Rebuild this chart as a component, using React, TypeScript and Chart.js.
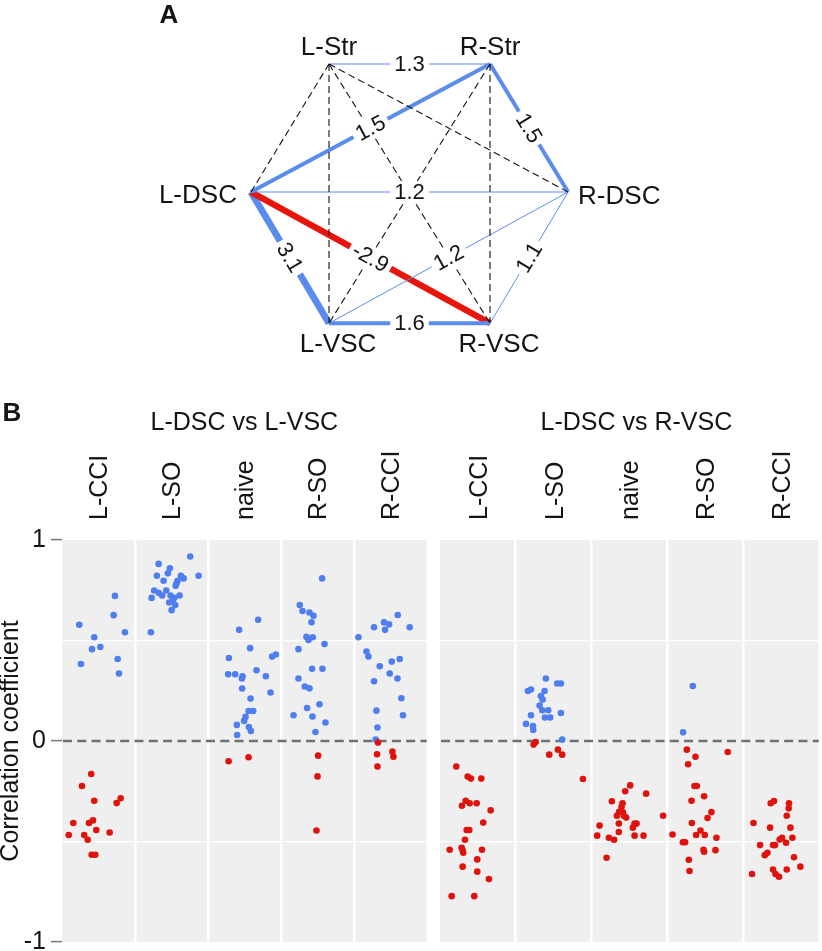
import React, { useEffect, useRef } from 'react';
import { Chart, registerables } from 'chart.js';

Chart.register(...registerables);

// ---------------- data: panel A (network) ----------------
const nodeNames = ['L-Str', 'R-Str', 'L-DSC', 'R-DSC', 'L-VSC', 'R-VSC'];
const nodeX = [-1, 1, -1.97, 1.97, -1, 1];
const nodeY = [1.59, 1.59, 0, 0, -1.63, -1.63];
// edges: from, to, weight (null = not significant)
const edgeFrom = [0, 2, 1, 2, 2, 2, 4, 4, 5, 0, 0, 0, 0, 1, 1];
const edgeTo = [1, 1, 3, 3, 4, 5, 5, 3, 3, 2, 3, 4, 5, 4, 5];
const edgeWeight: (number | null)[] = [1.3, 1.5, 1.5, 1.2, 3.1, -2.9, 1.6, 1.2, 1.1, null, null, null, null, null, null];

// ---------------- data: panel B (correlations) ----------------
const categories = ['L-CCI', 'L-SO', 'naive', 'R-SO', 'R-CCI'];
const facetTitles = ['L-DSC vs L-VSC', 'L-DSC vs R-VSC'];
const yTicks = [-1, 0, 1];

// facet 1: L-DSC vs L-VSC
const llLCCI_r = [0.578, 0.516, 0.457, 0.468, 0.383, 0.722, 0.626, 0.541, 0.408, 0.336, -0.164, -0.224, -0.297, -0.309, -0.285, -0.408, -0.408, -0.395, -0.443, -0.468, -0.468, -0.491, -0.455, -0.566, -0.566];
const llLCCI_j = [-0.263, -0.058, -0.089, 0.025, -0.24, 0.226, 0.208, 0.363, 0.263, 0.281, -0.099, -0.226, -0.058, 0.249, 0.304, -0.345, -0.13, -0.075, -0.03, -0.408, -0.195, -0.148, 0.153, -0.093, -0.044];
const llLSO_r = [0.881, 0.918, 0.822, 0.859, 0.834, 0.822, 0.797, 0.822, 0.809, 0.797, 0.785, 0.772, 0.749, 0.737, 0.724, 0.749, 0.712, 0.724, 0.712, 0.724, 0.689, 0.676, 0.651, 0.541, 0.7];
const llLSO_j = [-0.175, 0.258, 0.373, -0.021, -0.048, -0.199, -0.107, 0.13, 0.167, 0.085, 0.071, 0.058, -0.236, -0.175, -0.126, -0.071, -0.271, -0.011, 0.038, 0.112, -0.03, 0.052, 0.003, -0.281, 0.021];
const llNaive_r = [0.603, 0.553, 0.462, 0.413, 0.42, 0.43, 0.332, 0.332, 0.322, 0.311, 0.352, 0.322, 0.261, 0.241, 0.211, 0.149, 0.149, 0.12, 0.1, 0.08, 0.07, 0.05, 0.03, -0.101, -0.081];
const llNaive_j = [0.189, -0.071, 0.079, -0.212, 0.381, 0.432, -0.222, -0.126, -0.025, -0.034, 0.167, 0.295, -0.03, 0.359, 0.085, 0.058, 0.121, 0.016, -0.003, -0.103, 0.062, 0.089, -0.099, -0.216, 0.058];
const llRSO_r = [0.809, 0.676, 0.647, 0.639, 0.623, 0.591, 0.518, 0.503, 0.516, 0.482, 0.457, 0.359, 0.359, 0.311, 0.271, 0.262, 0.183, 0.128, 0.164, 0.122, 0.092, 0.045, -0.073, -0.176, -0.445];
const llRSO_j = [0.066, -0.24, -0.203, -0.107, -0.052, -0.079, -0.148, -0.121, -0.062, 0.099, -0.258, -0.071, 0.071, -0.258, -0.171, -0.107, 0.03, -0.326, -0.14, -0.066, 0.112, -0.025, 0.011, 0.003, -0.011];
const llRCCI_r = [0.627, 0.59, 0.58, 0.566, 0.553, 0.566, 0.516, 0.445, 0.42, 0.372, 0.395, 0.408, 0.297, 0.336, 0.311, 0.213, 0.151, 0.128, 0.067, 0.007, -0.008, -0.066, -0.053, -0.078, -0.127];
const llRCCI_j = [0.103, -0.085, -0.016, -0.222, -0.071, 0.267, -0.436, -0.326, -0.299, -0.144, 0.021, 0.13, -0.222, -0.007, 0.099, 0.153, -0.189, 0.175, -0.175, -0.199, -0.168, -0.181, 0.03, 0.044, -0.175];

// facet 2: L-DSC vs R-VSC
const lrLCCI_r = [-0.127, -0.177, -0.187, -0.187, -0.322, -0.297, -0.31, -0.31, -0.345, -0.406, -0.443, -0.443, -0.491, -0.541, -0.531, -0.544, -0.556, -0.541, -0.589, -0.625, -0.65, -0.687, -0.772, -0.772];
const lrLCCI_j = [-0.285, -0.135, -0.091, 0.045, -0.21, -0.161, -0.108, -0.016, 0.169, 0.071, -0.148, -0.113, -0.17, -0.372, -0.214, -0.201, -0.193, 0.054, -0.008, -0.201, -0.008, 0.146, -0.346, -0.047];
const lrLSO_r = [0.311, 0.286, 0.286, 0.249, 0.256, 0.249, 0.224, 0.206, 0.176, 0.153, 0.153, 0.117, 0.117, 0.139, 0.128, 0.085, 0.075, 0.055, 0.007, -0.005, -0.018, -0.043, -0.068, -0.068, -0.189];
const lrLSO_j = [-0.102, 0.047, 0.096, -0.339, -0.299, -0.119, -0.168, -0.145, -0.185, -0.15, -0.071, -0.115, -0.045, 0.096, -0.299, -0.365, -0.273, -0.269, 0.113, -0.237, -0.264, 0.057, -0.058, 0.113, 0.387];
const lrNaive_r = [-0.221, -0.25, -0.262, -0.3, -0.31, -0.327, -0.352, -0.372, -0.372, -0.381, -0.372, -0.411, -0.431, -0.411, -0.411, -0.421, -0.453, -0.471, -0.481, -0.491, -0.471, -0.471, -0.581, -0.355];
const lrNaive_j = [0.011, -0.055, 0.222, -0.231, -0.09, -0.103, -0.135, -0.165, -0.073, -0.042, 0.446, -0.139, 0.046, 0.095, 0.069, -0.393, -0.139, -0.425, -0.27, -0.201, 0.069, 0.187, -0.301, -0.086];
const lrRSO_r = [0.274, 0.043, -0.043, -0.078, -0.116, -0.055, -0.224, -0.224, -0.275, -0.297, -0.354, -0.383, -0.408, -0.465, -0.468, -0.445, -0.468, -0.481, -0.504, -0.504, -0.541, -0.551, -0.543, -0.591, -0.647];
const lrRSO_j = [-0.162, -0.29, -0.241, -0.127, -0.224, 0.299, -0.14, -0.109, -0.013, -0.179, 0.084, 0.032, -0.175, -0.43, -0.119, -0.061, -0.004, 0.15, -0.294, -0.264, -0.021, -0.013, 0.137, -0.215, -0.206];
const lrRCCI_r = [-0.31, -0.299, -0.31, -0.335, -0.372, -0.408, -0.431, -0.431, -0.518, -0.518, -0.518, -0.49, -0.481, -0.506, -0.481, -0.556, -0.568, -0.578, -0.662, -0.639, -0.662, -0.675, -0.639, -0.625];
const lrRCCI_j = [-0.133, -0.09, 0.108, 0.104, 0.078, -0.361, -0.142, 0.127, -0.274, -0.077, -0.103, -0.015, 0.016, 0.069, 0.153, -0.177, -0.212, 0.174, -0.38, -0.103, -0.071, -0.024, 0.078, 0.258];

const facetValues = [
  [llLCCI_r, llLSO_r, llNaive_r, llRSO_r, llRCCI_r],
  [lrLCCI_r, lrLSO_r, lrNaive_r, lrRSO_r, lrRCCI_r],
];
const facetJitter = [
  [llLCCI_j, llLSO_j, llNaive_j, llRSO_j, llRCCI_j],
  [lrLCCI_j, lrLSO_j, lrNaive_j, lrRSO_j, lrRCCI_j],
];

// ---------------- styles ----------------
const FONT = "'Liberation Sans', Arial, Helvetica, sans-serif";
const TEXT = '#141414';
const LINE_BLUE = '#5A8CEE';
const LINE_RED = '#E8150C';
const DOT_BLUE = '#4F7FEE';
const DOT_RED = '#E0120C';
const PANEL_BG = '#EFEFEF';
const nodeLabelSide = ['top', 'top', 'left', 'right', 'bottom', 'bottom'];

function edgeWidth(w: number | null): number {
  if (w === null) return 1.1;
  const a = Math.abs(w);
  if (a < 1.4) return 1;
  return Math.min(6.8, 4 + (a - 1.5) * 1.8);
}

const networkPlugin = {
  id: 'networkDecor',
  afterDatasetsDraw(chart: any) {
    const ctx = chart.ctx;
    // edge labels
    chart.data.datasets.forEach((ds: any, i: number) => {
      if (!ds.edgeLabel) return;
      const meta = chart.getDatasetMeta(i);
      const p0 = meta.data[0];
      const p1 = meta.data[1];
      const mx = (p0.x + p1.x) / 2;
      const my = (p0.y + p1.y) / 2;
      let ang = Math.atan2(p1.y - p0.y, p1.x - p0.x);
      if (ang > Math.PI / 2) ang -= Math.PI;
      if (ang < -Math.PI / 2) ang += Math.PI;
      ctx.save();
      ctx.translate(mx, my);
      ctx.rotate(ang);
      ctx.font = `22px ${FONT}`;
      const w = ctx.measureText(ds.edgeLabel).width;
      ctx.fillStyle = '#FFFFFF';
      ctx.fillRect(-w / 2 - 4, -11, w + 8, 22);
      ctx.fillStyle = TEXT;
      ctx.textAlign = 'center';
      ctx.textBaseline = 'middle';
      ctx.fillText(ds.edgeLabel, 0, 1);
      ctx.restore();
    });
    // node labels
    const xs = chart.scales.x;
    const ys = chart.scales.y;
    ctx.save();
    ctx.font = `26px ${FONT}`;
    ctx.fillStyle = TEXT;
    ctx.textBaseline = 'middle';
    nodeNames.forEach((name, i) => {
      const px = xs.getPixelForValue(nodeX[i]);
      const py = ys.getPixelForValue(nodeY[i]);
      const side = nodeLabelSide[i];
      if (side === 'top') {
        ctx.textAlign = 'center';
        ctx.fillText(name, px, py - 16);
      } else if (side === 'bottom') {
        ctx.textAlign = 'center';
        ctx.fillText(name, px + 9, py + 22);
      } else if (side === 'left') {
        ctx.textAlign = 'right';
        ctx.fillText(name, px - 14, py + 4);
      } else {
        ctx.textAlign = 'left';
        ctx.fillText(name, px + 10, py + 5);
      }
    });
    ctx.font = `bold 26px ${FONT}`;
    ctx.textAlign = 'center';
    ctx.fillText('A', 169, 16);
    ctx.restore();
  },
};

function networkConfig(): any {
  const idx = edgeFrom.map((_, i) => i).sort((a, b) => {
    const wa = edgeWeight[a] === null ? 0 : Math.abs(edgeWeight[a] as number);
    const wb = edgeWeight[b] === null ? 0 : Math.abs(edgeWeight[b] as number);
    return wa - wb;
  });
  const datasets = idx.map((i) => {
    const w = edgeWeight[i];
    const sig = w !== null;
    return {
      data: [
        { x: nodeX[edgeFrom[i]], y: nodeY[edgeFrom[i]] },
        { x: nodeX[edgeTo[i]], y: nodeY[edgeTo[i]] },
      ],
      showLine: true,
      borderColor: !sig ? '#111111' : (w as number) > 0 ? LINE_BLUE : LINE_RED,
      borderWidth: edgeWidth(w),
      borderDash: sig ? [] : [7, 4],
      pointRadius: 0,
      pointHoverRadius: 0,
      fill: false,
      edgeLabel: sig ? (w as number).toFixed(1) : null,
    };
  });
  return {
    type: 'scatter',
    data: { datasets },
    options: {
      animation: false,
      responsive: false,
      devicePixelRatio: 1,
      events: [],
      layout: { padding: 0 },
      plugins: { legend: { display: false }, tooltip: { enabled: false } },
      scales: {
        x: { type: 'linear', display: false, min: -5.087, max: 5.124 },
        y: { type: 'linear', display: false, min: -2.335, max: 2.385 },
      },
    },
    plugins: [networkPlugin],
  };
}

const facetPlugin = {
  id: 'facetDecor',
  beforeDraw(chart: any) {
    const { ctx, chartArea: a } = chart;
    ctx.save();
    ctx.fillStyle = PANEL_BG;
    ctx.fillRect(a.left, a.top, a.right - a.left, a.bottom - a.top);
    ctx.restore();
  },
  beforeDatasetsDraw(chart: any) {
    const { ctx, chartArea: a } = chart;
    const y0 = chart.scales.y.getPixelForValue(0);
    ctx.save();
    ctx.strokeStyle = '#6A7272';
    ctx.lineWidth = 2.6;
    ctx.setLineDash([9, 5.3]);
    ctx.beginPath();
    ctx.moveTo(a.left + 1, y0);
    ctx.lineTo(a.right, y0);
    ctx.stroke();
    ctx.restore();
  },
  afterDraw(chart: any, _args: any, opts: any) {
    const { ctx, chartArea: a } = chart;
    ctx.save();
    ctx.fillStyle = TEXT;
    ctx.font = `25px ${FONT}`;
    ctx.textAlign = 'center';
    ctx.textBaseline = 'middle';
    ctx.fillText(opts.title, (a.left + a.right) / 2 + opts.dx, 43);
    if (opts.tag) {
      ctx.font = `bold 26px ${FONT}`;
      ctx.fillText(opts.tag, 12, 34);
    }
    ctx.restore();
  },
};

function facetConfig(fi: number): any {
  const showY = fi === 0;
  const datasets = facetValues[fi].map((vals, ci) => ({
    data: vals.map((r, k) => ({ x: ci + 1 + facetJitter[fi][ci][k], y: r })),
    pointRadius: 3.3,
    pointHoverRadius: 3.3,
    pointBorderWidth: 0,
    pointBackgroundColor: vals.map((r) => (r >= 0 ? DOT_BLUE : DOT_RED)),
    showLine: false,
  }));
  return {
    type: 'scatter',
    data: { datasets },
    options: {
      animation: false,
      responsive: false,
      devicePixelRatio: 1,
      events: [],
      layout: { padding: showY ? { left: 0, right: 3, top: 0, bottom: 9 } : { left: 10, right: 0, top: 0, bottom: 9 } },
      plugins: {
        legend: { display: false },
        tooltip: { enabled: false },
        facetDecor: { title: facetTitles[fi], dx: fi === 0 ? 0 : 7, tag: showY ? 'B' : '' },
      },
      scales: {
        x: {
          type: 'linear',
          position: 'top',
          min: 0.5,
          max: 5.5,
          afterFit: (s: any) => {
            s.height = 160;
            s.paddingLeft = 0;
            s.paddingRight = 0;
            s.paddingTop = 0;
            s.paddingBottom = 0;
          },
          ticks: {
            stepSize: 0.5,
            autoSkip: false,
            minRotation: 90,
            maxRotation: 90,
            padding: 20,
            labelOffset: 32,
            font: { family: FONT, size: 25 },
            color: TEXT,
            callback: (v: number) => (Number.isInteger(v) ? categories[v - 1] : ''),
          },
          grid: {
            drawTicks: false,
            lineWidth: 2.5,
            color: (c: any) => {
              const v = c.tick ? c.tick.value : 0;
              return !Number.isInteger(v) && v > 0.6 && v < 5.4 ? '#FFFFFF' : 'rgba(0,0,0,0)';
            },
          },
          border: { display: false },
        },
        y: {
          type: 'linear',
          min: -1,
          max: 1,
          afterFit: (s: any) => {
            s.width = showY ? 62 : 0;
            s.paddingTop = 0;
            s.paddingBottom = 0;
            s.paddingLeft = 0;
            s.paddingRight = 0;
          },
          afterBuildTicks: (s: any) => {
            s.ticks = [-1, -0.5, 0, 0.5, 1].map((v) => ({ value: v }));
          },
          ticks: {
            display: showY,
            padding: 5,
            font: { family: FONT, size: 25 },
            color: TEXT,
            callback: (v: number) => (yTicks.includes(v) ? String(v) : ''),
          },
          title: {
            display: showY,
            text: 'Correlation coefficient',
            font: { family: FONT, size: 25, lineHeight: 0.9 },
            color: TEXT,
            padding: 0,
          },
          grid: {
            drawTicks: showY,
            tickLength: 11,
            tickWidth: 1.5,
            tickColor: (c: any) => (c.tick && Number.isInteger(c.tick.value) ? '#777777' : 'rgba(0,0,0,0)'),
            lineWidth: 1.2,
            color: (c: any) => (c.tick && Math.abs(c.tick.value) === 0.5 ? '#FFFFFF' : 'rgba(0,0,0,0)'),
          },
          border: { display: false },
        },
      },
    },
    plugins: [facetPlugin],
  };
}

export default function App() {
  const netRef = useRef<HTMLCanvasElement>(null);
  const leftRef = useRef<HTMLCanvasElement>(null);
  const rightRef = useRef<HTMLCanvasElement>(null);

  useEffect(() => {
    const charts: Chart[] = [];
    if (netRef.current) charts.push(new Chart(netRef.current, networkConfig()));
    if (leftRef.current) charts.push(new Chart(leftRef.current, facetConfig(0)));
    if (rightRef.current) charts.push(new Chart(rightRef.current, facetConfig(1)));
    return () => charts.forEach((c) => c.destroy());
  }, []);

  return (
    <div style={{ position: 'absolute', left: 0, top: 0, width: 822, height: 951, background: '#FFFFFF', overflow: 'hidden' }}>
      <canvas ref={netRef} width={822} height={380} style={{ position: 'absolute', left: 0, top: 0, width: 822, height: 380 }} />
      <canvas ref={leftRef} width={430} height={571} style={{ position: 'absolute', left: 0, top: 380, width: 430, height: 571 }} />
      <canvas ref={rightRef} width={392} height={571} style={{ position: 'absolute', left: 430, top: 380, width: 392, height: 571 }} />
    </div>
  );
}
